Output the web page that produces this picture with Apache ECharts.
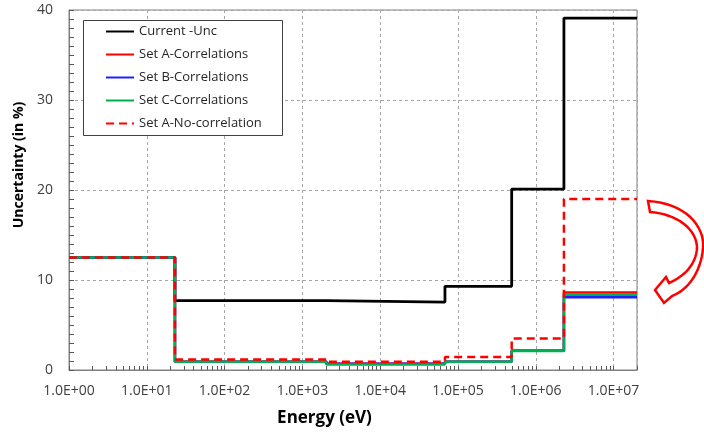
<!DOCTYPE html>
<html>
<head>
<meta charset="utf-8">
<script src="https://cdn.jsdelivr.net/npm/echarts@6/dist/echarts.min.js"></script>
<style>html,body{margin:0;padding:0;background:#fff;}#c{width:704px;height:438px;}</style>
</head>
<body>
<div id="c"></div>
<script>
// Group boundaries (eV) and uncertainty per group (%)
const edges = [1, 23, 2040, 68000, 490000, 2300000, 20000000];
const currentUnc = [12.5, 7.7, 7.55, 9.3, 20.1, 39.1];
const setACorr = [12.5, 0.93, 0.7, 0.93, 2.15, 8.6];
const setBCorr = [12.5, 0.93, 0.7, 0.93, 2.15, 8.07];
const setCCorr = [12.5, 0.93, 0.6, 0.93, 2.1, 8.37];
const setANoCorr = [12.5, 1.18, 0.93, 1.45, 3.5, 19.0];
const seriesNames = ['Current -Unc', 'Set A-Correlations', 'Set B-Correlations', 'Set C-Correlations', 'Set A-No-correlation'];
const decadeTicks = [1, 10, 100, 1000, 10000, 100000, 1000000, 10000000];
const minorMultipliers = [2, 3, 4, 5, 6, 7, 8, 9];
const yTicks = [0, 10, 20, 30, 40];

function steps(vals) {
  return edges.map((e, i) => [e, vals[Math.min(i, vals.length - 1)]]);
}
const xTickValues = [];
decadeTicks.forEach(d => {
  xTickValues.push(d);
  minorMultipliers.forEach(m => { if (d * m <= edges[edges.length - 1]) xTickValues.push(d * m); });
});

// decorative curved arrow outline (annotation, not data)
function bez(p0, p1, p2, p3, n) {
  const out = [];
  for (let i = 0; i <= n; i++) {
    const t = i / n, u = 1 - t;
    out.push([u*u*u*p0[0] + 3*u*u*t*p1[0] + 3*u*t*t*p2[0] + t*t*t*p3[0],
              u*u*u*p0[1] + 3*u*u*t*p1[1] + 3*u*t*t*p2[1] + t*t*t*p3[1]]);
  }
  return out;
}
const arrowPts = [].concat(
  bez([648,201],[685,203],[705,226],[703,248],16),
  bez([703,248],[701,272],[688,290],[672,296],16).slice(1),
  [[664,303],[655,290],[666,277],[669,283]],
  bez([669,283],[685,276],[696,264],[697,248],16).slice(1),
  bez([697,248],[697,230],[678,214],[650,212],16).slice(1)
);

const FONT = '"Open Sans", "Noto Sans", sans-serif';
const chart = echarts.init(document.getElementById('c'), null, {renderer: 'canvas'});
const split = {show: true, lineStyle: {color: '#a6a6a6', type: [3, 3], width: 1}};
const tickColor = '#595959';

chart.setOption({
  animation: false,
  backgroundColor: '#fff',
  grid: {left: 69, right: 67, top: 10, bottom: 68, show: true, borderColor: '#808080', borderWidth: 1},
  legend: {
    orient: 'vertical', left: 105, top: 25, padding: 0,
    itemWidth: 28, itemHeight: 12, itemGap: 10,
    textStyle: {fontFamily: FONT, fontSize: 13, color: '#262626'},
    itemStyle: {color: 'transparent', borderColor: 'transparent', borderWidth: 0},
    data: seriesNames, z: 5
  },
  graphic: [
    {type: 'rect', shape: {x: 83.5, y: 20.5, width: 199, height: 115}, style: {fill: '#fff', stroke: '#404040', lineWidth: 1}, z: 1},
    {type: 'polygon', shape: {points: arrowPts}, style: {fill: '#fff', stroke: '#ff0000', lineWidth: 2.5}, z: 10}
  ],
  xAxis: [
    {
      type: 'log', logBase: 10, min: edges[0], max: edges[edges.length - 1], splitNumber: 8,
      name: 'Energy (eV)', nameLocation: 'middle', nameGap: 40,
      nameTextStyle: {fontFamily: FONT, fontSize: 17, fontWeight: 'bold', color: '#000', padding: [0, 57, 0, 0]},
      axisLine: {show: true, lineStyle: {color: '#808080', width: 1}},
      axisTick: {show: false},
      axisLabel: {
        fontFamily: FONT, fontSize: 14, color: '#404040', margin: 14, showMaxLabel: false,
        formatter: v => { const e = Math.round(Math.log10(v)); return '1.0E+' + String(e).padStart(2, '0'); }
      },
      splitLine: split
    },
    {
      type: 'log', logBase: 10, min: edges[0], max: edges[edges.length - 1], position: 'bottom',
      axisLine: {show: false},
      axisLabel: {show: false},
      splitLine: {show: false},
      axisTick: {show: true, inside: true, length: 4, customValues: xTickValues, lineStyle: {color: tickColor, width: 1}}
    }
  ],
  yAxis: {
    type: 'value', min: yTicks[0], max: yTicks[yTicks.length - 1], interval: 10,
    name: 'Uncertainty (in %)', nameLocation: 'middle', nameGap: 41,
    nameTextStyle: {fontFamily: FONT, fontSize: 14, fontWeight: 'bold', color: '#000', padding: [0, 0, 0, 50]},
    axisLine: {show: true, lineStyle: {color: '#808080', width: 1}},
    axisTick: {show: true, inside: true, length: 5, lineStyle: {color: tickColor, width: 1}},
    minorTick: {show: true, splitNumber: 10, length: 5, lineStyle: {color: tickColor, width: 1}},
    axisLabel: {fontFamily: FONT, fontSize: 14, color: '#404040', margin: 16},
    splitLine: split
  },
  series: [
    {name: seriesNames[0], type: 'line', step: 'end', symbol: 'none', data: steps(currentUnc), lineStyle: {color: '#000', width: 2.8}, itemStyle: {color: '#000'}, z: 2},
    {name: seriesNames[1], type: 'line', step: 'end', symbol: 'none', data: steps(setACorr), lineStyle: {color: '#ff0000', width: 2.5}, itemStyle: {color: '#ff0000'}, z: 3},
    {name: seriesNames[2], type: 'line', step: 'end', symbol: 'none', data: steps(setBCorr), lineStyle: {color: '#1f1fff', width: 2.5}, itemStyle: {color: '#1f1fff'}, z: 4},
    {name: seriesNames[3], type: 'line', step: 'end', symbol: 'none', data: steps(setCCorr), lineStyle: {color: '#00b050', width: 2.5}, itemStyle: {color: '#00b050'}, z: 5},
    {name: seriesNames[4], type: 'line', step: 'end', symbol: 'none', data: steps(setANoCorr), lineStyle: {color: '#ff0000', width: 2.5, type: [8, 5]}, itemStyle: {color: '#ff0000'}, z: 6}
  ]
});
</script>
</body>
</html>
